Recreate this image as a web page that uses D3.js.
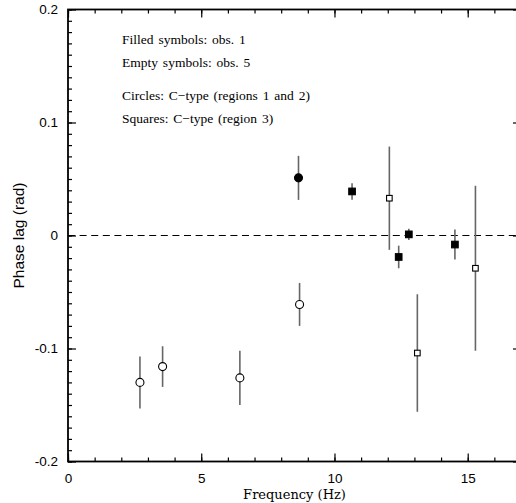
<!DOCTYPE html>
<html>
<head>
<meta charset="utf-8">
<script src="https://cdn.jsdelivr.net/npm/d3@7"></script>
<style>
  html, body { margin: 0; padding: 0; background: #fff; }
  svg { display: block; }
</style>
</head>
<body>
<svg id="chart" width="516" height="503"></svg>
<script>
// ---- Data ----
// Filled circles: obs. 1, C-type regions 1 and 2
const filledCircleFreq = [8.65];
const filledCircleLag  = [0.051];
const filledCircleErr  = [0.0195];

// Empty circles: obs. 5, C-type regions 1 and 2
const emptyCircleFreq = [2.70, 3.55, 6.45, 8.69];
const emptyCircleLag  = [-0.130, -0.116, -0.126, -0.061];
const emptyCircleErr  = [0.023, 0.018, 0.024, 0.019];

// Filled squares: obs. 1, C-type region 3
const filledSquareFreq = [10.66, 12.41, 12.79, 14.52];
const filledSquareLag  = [0.039, -0.019, 0.001, -0.008];
const filledSquareErr  = [0.0073, 0.010, 0.005, 0.0133];

// Empty squares: obs. 5, C-type region 3
const emptySquareFreq = [12.06, 13.11, 15.29];
const emptySquareLag  = [0.033, -0.104, -0.029];
const emptySquareErr  = [0.0457, 0.052, 0.073];

const xTickValues = [0, 5, 10, 15];
const yTickValues = [-0.2, -0.1, 0, 0.1, 0.2];
const yTickLabels = ["-0.2", "-0.1", "0", "0.1", "0.2"];
const legendLines = [
  "Filled symbols: obs. 1",
  "Empty symbols: obs. 5",
  "Circles: C\u2212type (regions 1 and 2)",
  "Squares: C\u2212type (region 3)"
];
const xTitle = "Frequency (Hz)";
const yTitle = "Phase lag (rad)";

// ---- Layout ----
const svg = d3.select("#chart");
const mLeft = 68, mRight = 521, mTop = 9.5, mBottom = 461.5;
const x = d3.scaleLinear().domain([0, 17]).range([mLeft, mRight]);
const y = d3.scaleLinear().domain([-0.2, 0.2]).range([mBottom, mTop]);

const sansFont = "'Liberation Sans', Arial, Helvetica, sans-serif";
const serifFont = "'Liberation Serif', 'Times New Roman', serif";

// ---- Axes (ticks inward, mirrored) ----
const xMinor = d3.range(0, 18, 1);
const yMinor = d3.range(-20, 21, 1).map(d => d / 100);

function drawAxis(axisGen, transform) {
  const g = svg.append("g").attr("transform", transform).call(axisGen);
  g.select(".domain").remove();
  g.selectAll("line").attr("stroke", "#000").attr("stroke-width", 1.2);
  return g;
}
// minor ticks
drawAxis(d3.axisBottom(x).tickValues(xMinor).tickSize(-4).tickFormat(""), `translate(0,${mBottom})`);
drawAxis(d3.axisTop(x).tickValues(xMinor).tickSize(-4).tickFormat(""), `translate(0,${mTop})`);
drawAxis(d3.axisLeft(y).tickValues(yMinor).tickSize(-4).tickFormat(""), `translate(${mLeft},0)`);
drawAxis(d3.axisRight(y).tickValues(yMinor).tickSize(-4).tickFormat(""), `translate(${mRight},0)`);
// major ticks
const gxb = drawAxis(d3.axisBottom(x).tickValues(xTickValues).tickSize(-8).tickPadding(14)
  .tickFormat(d3.format("d")), `translate(0,${mBottom})`);
gxb.selectAll("text").attr("font-family", sansFont).attr("font-size", 13.5).attr("fill", "#000")
  .attr("dy", null).attr("y", 21);
drawAxis(d3.axisTop(x).tickValues(xTickValues).tickSize(-8).tickFormat(""), `translate(0,${mTop})`);
const gyl = drawAxis(d3.axisLeft(y).tickValues(yTickValues).tickSize(-8).tickPadding(10)
  .tickFormat((d, i) => yTickLabels[i]), `translate(${mLeft},0)`);
gyl.selectAll("text").attr("font-family", sansFont).attr("font-size", 13.5).attr("fill", "#000")
  .attr("x", -10);
drawAxis(d3.axisRight(y).tickValues(yTickValues).tickSize(-8).tickFormat(""), `translate(${mRight},0)`);

// frame
svg.append("rect").attr("x", mLeft).attr("y", mTop)
  .attr("width", mRight - mLeft).attr("height", mBottom - mTop)
  .attr("fill", "none").attr("stroke", "#000").attr("stroke-width", 1.8);

// zero dashed line
svg.append("line").attr("x1", x(0)).attr("x2", x(17)).attr("y1", y(0)).attr("y2", y(0))
  .attr("stroke", "#000").attr("stroke-width", 1.1).attr("stroke-dasharray", "7,4.6");

// ---- Series ----
function series(fr, lag, err, shape, filled) {
  const data = fr.map((f, i) => ({ f, v: lag[i], e: err[i] }));
  const g = svg.append("g");
  g.selectAll("line.err").data(data).enter().append("line")
    .attr("x1", d => x(d.f)).attr("x2", d => x(d.f))
    .attr("y1", d => y(d.v + d.e)).attr("y2", d => y(d.v - d.e))
    .attr("stroke", "#666").attr("stroke-width", 1.6);
  if (shape === "circle") {
    g.selectAll("circle").data(data).enter().append("circle")
      .attr("cx", d => x(d.f)).attr("cy", d => y(d.v))
      .attr("r", 4)
      .attr("fill", filled ? "#000" : "#fff").attr("stroke", "#000").attr("stroke-width", 1.1);
  } else {
    const s = filled ? 6.6 : 5.6;
    g.selectAll("rect").data(data).enter().append("rect")
      .attr("x", d => x(d.f) - s / 2).attr("y", d => y(d.v) - s / 2)
      .attr("width", s).attr("height", s)
      .attr("fill", filled ? "#000" : "#fff").attr("stroke", "#000").attr("stroke-width", 1.1);
  }
}
series(emptyCircleFreq, emptyCircleLag, emptyCircleErr, "circle", false);
series(filledCircleFreq, filledCircleLag, filledCircleErr, "circle", true);
series(filledSquareFreq, filledSquareLag, filledSquareErr, "square", true);
series(emptySquareFreq, emptySquareLag, emptySquareErr, "square", false);

// ---- Legend text ----
const legendY = [44, 67, 100, 123];
svg.append("g").selectAll("text").data(legendLines).enter().append("text")
  .attr("x", 122).attr("y", (d, i) => legendY[i])
  .attr("font-family", serifFont).attr("font-size", 13.5)
  .attr("word-spacing", 1.5)
  .attr("fill", "#000").text(d => d);

// ---- Axis titles ----
svg.append("text").attr("x", (mLeft + mRight) / 2).attr("y", 499)
  .attr("text-anchor", "middle").attr("font-family", "'DejaVu Serif', serif")
  .attr("font-size", 13).attr("fill", "#000").text(xTitle);
svg.append("text").attr("transform", `translate(24,${(mTop + mBottom) / 2}) rotate(-90)`)
  .attr("text-anchor", "middle").attr("font-family", sansFont)
  .attr("font-size", 15.5).attr("fill", "#000").text(yTitle);
</script>
</body>
</html>
